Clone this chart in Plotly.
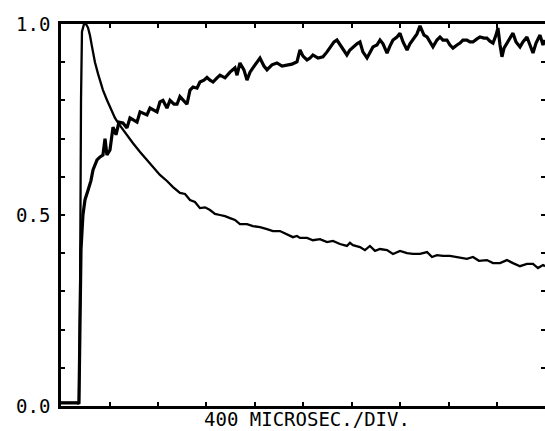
import plotly.graph_objects as go

# Time axis in microseconds (400 us per division)
decay_t = [0, 140, 148, 157, 165, 173, 190, 206, 223, 239, 256, 280, 305, 322, 346, 379, 412, 445,
           478, 511, 553, 594, 652, 709, 759, 816, 874, 924, 981, 1023, 1064, 1105, 1146, 1188,
           1229, 1270, 1311, 1353, 1394, 1435, 1476, 1534, 1583, 1641, 1699, 1748, 1806, 1864,
           1913, 1946, 1971, 2029, 2078, 2136, 2194, 2243, 2301, 2358, 2383, 2408, 2466, 2507,
           2548, 2590, 2631, 2689, 2738, 2796, 2854, 2903, 2961, 3019, 3060, 3101, 3150, 3208,
           3266, 3348, 3398, 3447, 3513, 3563, 3621, 3678, 3728, 3786, 3843, 3893, 3934, 3975, 3992]
decay_v = [0.008, 0.008, 0.01, 0.28, 0.80, 0.98, 1.0, 1.0, 0.99, 0.97, 0.94, 0.90, 0.87, 0.85,
           0.827, 0.801, 0.775, 0.754, 0.738, 0.723, 0.704, 0.688, 0.665, 0.644, 0.623, 0.605,
           0.589, 0.573, 0.558, 0.555, 0.539, 0.534, 0.518, 0.52, 0.513, 0.503, 0.500, 0.497,
           0.492, 0.487, 0.476, 0.476, 0.471, 0.468, 0.463, 0.458, 0.458, 0.45, 0.442, 0.445,
           0.440, 0.44, 0.434, 0.437, 0.429, 0.432, 0.424, 0.419, 0.427, 0.421, 0.416, 0.408,
           0.419, 0.406, 0.411, 0.408, 0.398, 0.406, 0.40, 0.398, 0.398, 0.403, 0.39, 0.395,
           0.393, 0.393, 0.39, 0.385, 0.39, 0.38, 0.382, 0.374, 0.374, 0.382, 0.374, 0.366,
           0.372, 0.372, 0.361, 0.369, 0.366]

rise_t = [0, 140, 148, 157, 165, 181, 198, 223, 247, 264, 297, 322, 346, 363, 379, 404, 429, 454,
          478, 511, 544, 569, 594, 627, 652, 676, 709, 734, 759, 792, 816, 841, 874, 899, 932,
          957, 981, 1014, 1039, 1064, 1089, 1122, 1146, 1179, 1204, 1229, 1254, 1287, 1311, 1353,
          1394, 1435, 1452, 1476, 1509, 1534, 1559, 1583, 1616, 1641, 1674, 1699, 1740, 1781,
          1823, 1864, 1905, 1946, 1971, 1996, 2029, 2054, 2078, 2120, 2161, 2194, 2219, 2252,
          2276, 2301, 2326, 2358, 2383, 2408, 2441, 2466, 2490, 2524, 2549, 2573, 2606, 2631,
          2656, 2689, 2713, 2738, 2771, 2796, 2821, 2854, 2878, 2903, 2936, 2961, 2994, 3019,
          3043, 3068, 3101, 3126, 3150, 3183, 3208, 3233, 3266, 3291, 3315, 3348, 3373, 3398,
          3431, 3456, 3489, 3513, 3538, 3563, 3588, 3604, 3621, 3637, 3654, 3678, 3703, 3728,
          3753, 3786, 3810, 3843, 3868, 3893, 3918, 3951, 3975, 3992]
rise_v = [0.008, 0.008, 0.005, 0.28, 0.41, 0.50, 0.54, 0.565, 0.59, 0.618, 0.644, 0.652, 0.657,
          0.70, 0.657, 0.67, 0.73, 0.71, 0.743, 0.741, 0.728, 0.754, 0.749, 0.743, 0.77, 0.767,
          0.762, 0.780, 0.775, 0.77, 0.796, 0.80, 0.78, 0.80, 0.79, 0.79, 0.81, 0.80, 0.79,
          0.827, 0.835, 0.832, 0.848, 0.853, 0.86, 0.853, 0.848, 0.859, 0.866, 0.859, 0.874,
          0.885, 0.866, 0.898, 0.88, 0.853, 0.874, 0.885, 0.901, 0.911, 0.89, 0.88, 0.893,
          0.898, 0.89, 0.893, 0.895, 0.901, 0.932, 0.916, 0.906, 0.911, 0.919, 0.911, 0.914,
          0.927, 0.937, 0.953, 0.958, 0.945, 0.932, 0.919, 0.932, 0.94, 0.948, 0.953, 0.927,
          0.911, 0.927, 0.94, 0.945, 0.958, 0.948, 0.924, 0.942, 0.958, 0.966, 0.976, 0.953,
          0.932, 0.948, 0.958, 0.974, 0.995, 0.971, 0.966, 0.953, 0.940, 0.958, 0.966, 0.958,
          0.958, 0.945, 0.937, 0.945, 0.950, 0.958, 0.958, 0.953, 0.953, 0.961, 0.966, 0.963,
          0.963, 0.955, 0.950, 0.971, 0.99, 0.945, 0.914, 0.937, 0.950, 0.963, 0.976, 0.953,
          0.940, 0.953, 0.966, 0.945, 0.924, 0.95, 0.971, 0.945, 0.958]

x_tick_vals = [0, 400, 800, 1200, 1600, 2000, 2400, 2800, 3200, 3600, 4000]
y_tick_vals = [0.0, 0.1, 0.2, 0.3, 0.4, 0.5, 0.6, 0.7, 0.8, 0.9, 1.0]
y_tick_text = ["0.0", "", "", "", "", "0.5", "", "", "", "", "1.0"]
x_label = "400 MICROSEC./DIV."

FONT = "DejaVu Sans Mono"

fig = go.Figure()
fig.add_trace(go.Scatter(x=decay_t, y=decay_v, mode="lines",
                         line=dict(color="black", width=2.3), hoverinfo="skip"))
fig.add_trace(go.Scatter(x=rise_t, y=rise_v, mode="lines",
                         line=dict(color="black", width=3.2), hoverinfo="skip"))
# invisible trace to anchor the mirrored tick axes
fig.add_trace(go.Scatter(x=[0], y=[0], xaxis="x2", yaxis="y2", mode="markers",
                         marker=dict(opacity=0), hoverinfo="skip"))

axis_common = dict(showgrid=False, zeroline=False, ticks="inside", tickcolor="black",
                   tickwidth=2, ticklen=4)

fig.update_layout(
    width=545, height=431, autosize=False,
    margin=dict(l=61, r=0, t=24, b=25),
    paper_bgcolor="white", plot_bgcolor="white",
    showlegend=False,
    xaxis=dict(range=[0, 3992], tickvals=x_tick_vals, showticklabels=False,
               showline=True, linecolor="black", linewidth=2.5, **axis_common),
    xaxis2=dict(range=[0, 3992], overlaying="x", side="top", tickvals=x_tick_vals,
                showticklabels=False, showline=True, linecolor="black", linewidth=2.5,
                anchor="y", **axis_common),
    yaxis=dict(range=[0, 1], tickvals=y_tick_vals, ticktext=y_tick_text,
               showline=True, linecolor="black", linewidth=2.5, ticklabelstandoff=4,
               tickfont=dict(family=FONT, size=19, color="black"), **axis_common),
    yaxis2=dict(range=[0, 1], overlaying="y", side="right", tickvals=y_tick_vals,
                showticklabels=False, showline=False, anchor="x", **axis_common),
    annotations=[dict(text=x_label, xref="paper", yref="paper", x=0.508, y=0,
                      xanchor="center", yanchor="bottom", yshift=-25, borderpad=0,
                      showarrow=False,
                      font=dict(family=FONT, size=19, color="black"))],
)

fig.write_html("out.html", config={"responsive": False, "displayModeBar": False},
               post_script="document.documentElement.style.margin='0';"
                           "document.body.style.margin='0';"
                           "document.body.style.overflow='hidden';")
